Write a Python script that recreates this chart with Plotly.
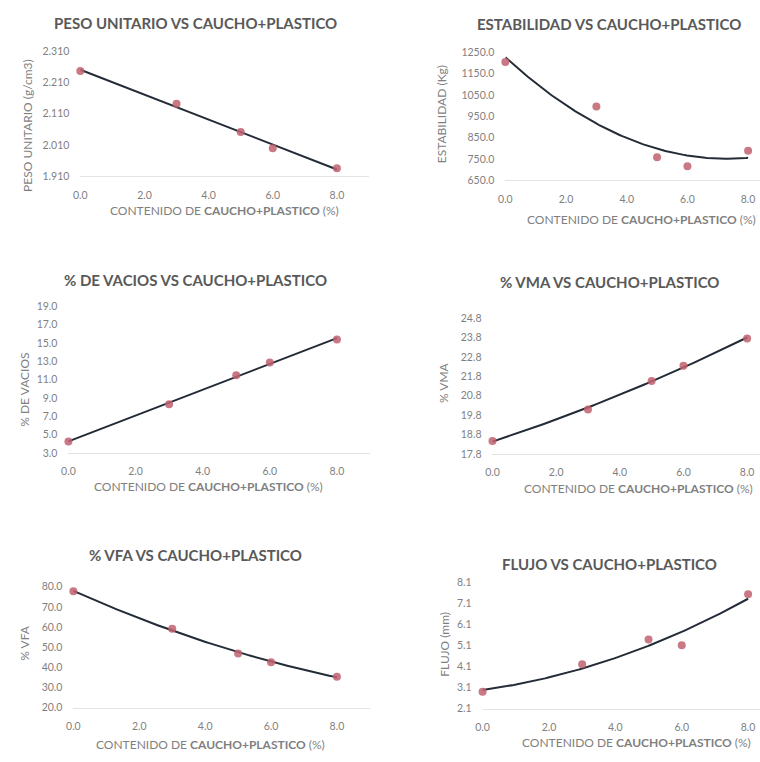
import numpy as np
import plotly.graph_objects as go

W, H = 760, 762

contenido = [0.0, 3.0, 5.0, 6.0, 8.0]
peso_unitario = [2.247, 2.142, 2.052, 2.000, 1.936]
estabilidad = [1204, 996, 758, 715, 788]
vacios = [4.25, 8.3, 11.46, 12.86, 15.36]
vma = [18.46, 20.09, 21.56, 22.34, 23.75]
vfa = [77.7, 59.2, 46.9, 42.6, 35.4]
flujo = [2.91, 4.22, 5.40, 5.13, 7.55]

titles = ["PESO UNITARIO VS CAUCHO+PLASTICO", "ESTABILIDAD VS CAUCHO+PLASTICO",
          "% DE VACIOS VS CAUCHO+PLASTICO", "% VMA VS CAUCHO+PLASTICO",
          "% VFA VS CAUCHO+PLASTICO", "FLUJO VS CAUCHO+PLASTICO"]
y_titles = ["PESO UNITARIO (g/cm3)", "ESTABILIDAD (Kg)", "% DE VACIOS", "% VMA", "% VFA", "FLUJO (mm)"]
x_title = "CONTENIDO DE <b>CAUCHO+PLASTICO</b> (%)"
series = [peso_unitario, estabilidad, vacios, vma, vfa, flujo]
fit_deg = [1, 2, 1, 2, 2, 2]
y_min = [1.910, 650.0, 3.0, 17.8, 20.0, 2.1]
y_max = [2.310, 1250.0, 19.0, 24.8, 80.0, 8.1]
y_step = [0.1, 100.0, 2.0, 1.0, 10.0, 1.0]
y_fmt = [".3f", ".1f", ".1f", ".1f", ".1f", ".1f"]

# layout in pixels: (x of 0, x of 8, y top, y bottom)
geom = [(74, 333, 46, 173), (503, 748, 47, 177), (62, 333, 305, 454),
        (490, 747, 317, 455), (67, 333, 590, 713), (480, 748, 586, 714)]
title_pos = [(190, 17), (608, 18), (190, 278), (608, 280), (190, 558), (608, 567)]
xt_pos = [(220, 208), (640, 217), (203, 488), (637, 490), (205, 750), (635, 748)]
yt_pos = [(20, 121), (438, 110), (18, 390), (441, 382), (18, 647), (442, 648)]

MARK = "#C0606F"
LINE = "#232C36"
TXT = "#7F7F7F"
TITLE = "#595959"
FONT = "Lato, 'Open Sans', sans-serif"

fig = go.Figure()
layout = dict(width=W, height=H, margin=dict(l=0, r=0, t=0, b=0),
              paper_bgcolor="white", plot_bgcolor="white", showlegend=False,
              font=dict(family=FONT, color=TXT))
annotations = []

for i in range(6):
    n = "" if i == 0 else str(i + 1)
    x0, x8, yt, yb = geom[i]
    u = (x8 - x0) / 8.0
    right = min(x0 + 9 * u, W)
    xmax = (right - x0) / u
    eps = 1e-6 * (y_max[i] - y_min[i])
    layout["xaxis" + n] = dict(domain=[x0 / W, right / W], range=[0, xmax], anchor="y" + n,
                               tick0=0, dtick=2, tickformat=".1f", showgrid=False, zeroline=False,
                               showline=True, linecolor="#E3E3E3", linewidth=1,
                               ticks="", ticklabelstandoff=9,
                               tickfont=dict(size=10.5, color=TXT, family=FONT), fixedrange=True)
    layout["yaxis" + n] = dict(domain=[1 - yb / H, 1 - yt / H], range=[y_min[i] - eps, y_max[i] + eps],
                               anchor="x" + n, tick0=y_min[i], dtick=y_step[i], tickformat=y_fmt[i],
                               showgrid=False, zeroline=False, showline=False, ticks="",
                               ticklabelstandoff=10,
                               tickfont=dict(size=10.5, color=TXT, family=FONT), fixedrange=True)
    xs = np.array(contenido)
    ys = np.array(series[i])
    coef = np.polyfit(xs, ys, fit_deg[i])
    xx = np.linspace(0, 8, 120)
    fig.add_trace(go.Scatter(x=xx, y=np.polyval(coef, xx), mode="lines",
                             line=dict(color=LINE, width=2), xaxis="x" + n, yaxis="y" + n,
                             hoverinfo="skip", cliponaxis=False))
    fig.add_trace(go.Scatter(x=contenido, y=series[i], mode="markers",
                             marker=dict(color=MARK, size=8, opacity=0.85),
                             xaxis="x" + n, yaxis="y" + n, cliponaxis=False))
    tx, ty = title_pos[i]
    annotations.append(dict(text="<b>" + titles[i] + "</b>", x=tx / W, y=1 - ty / H,
                            xref="paper", yref="paper", showarrow=False, xanchor="center",
                            yanchor="middle", font=dict(size=15, color=TITLE, family=FONT)))
    ax, ay = xt_pos[i]
    annotations.append(dict(text=x_title, x=ax / W, y=1 - ay / H, xref="paper", yref="paper",
                            showarrow=False, xanchor="center", yanchor="middle",
                            font=dict(size=12, color=TXT, family=FONT)))
    yx, yy = yt_pos[i]
    annotations.append(dict(text=y_titles[i], x=yx / W, y=1 - yy / H, xref="paper", yref="paper",
                            showarrow=False, xanchor="center", yanchor="middle", textangle=-90,
                            font=dict(size=12, color=TXT, family=FONT)))

layout["annotations"] = annotations
fig.update_layout(**layout)
fig.write_html("out.html", config={"displayModeBar": False},
               post_script="document.body.style.margin='0';document.body.style.overflow='hidden';")
